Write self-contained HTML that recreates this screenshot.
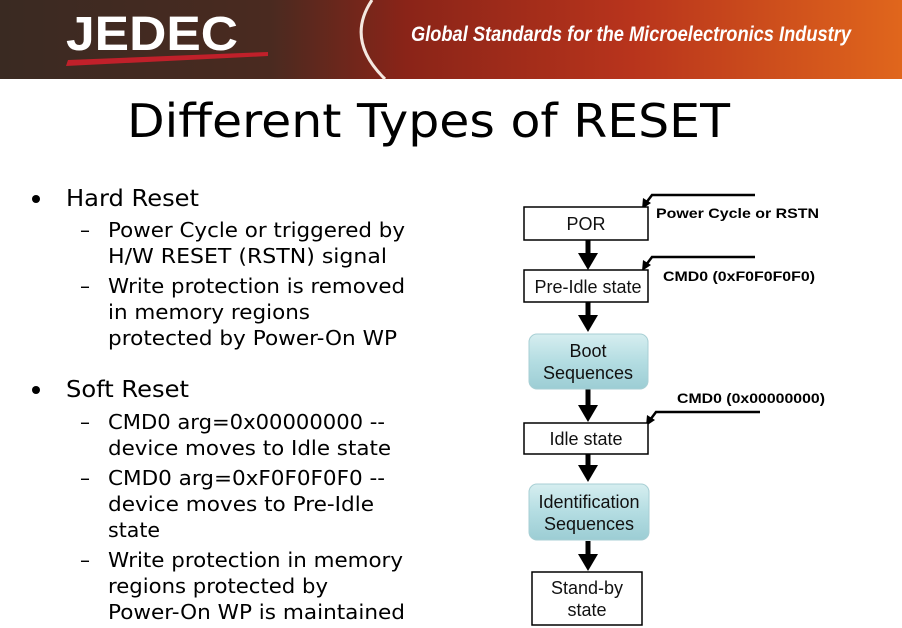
<!DOCTYPE html>
<html><head><meta charset="utf-8"><style>
html,body{margin:0;padding:0;background:#fff;width:902px;height:628px;overflow:hidden}
</style></head><body>
<svg width="902" height="628" viewBox="0 0 902 628" xmlns="http://www.w3.org/2000/svg">
<defs>
<linearGradient id="hdr" x1="0" y1="0" x2="1" y2="0">
<stop offset="0" stop-color="#3a2a22"/>
<stop offset="0.3" stop-color="#4a2a20"/>
<stop offset="0.45" stop-color="#8a2418"/>
<stop offset="0.7" stop-color="#b8341c"/>
<stop offset="1" stop-color="#e0661c"/>
</linearGradient>
<linearGradient id="box" x1="0" y1="0" x2="0" y2="1">
<stop offset="0" stop-color="#d6eef0"/>
<stop offset="0.5" stop-color="#b4dde2"/>
<stop offset="1" stop-color="#9ccdd4"/>
</linearGradient>
</defs>
<rect x="0" y="0" width="902" height="79" fill="url(#hdr)"/>
<path d="M372 0 Q345 40 385 79" stroke="#f4e8e0" stroke-width="3" fill="none"/>
<text x="66" y="50" font-family="Liberation Sans, sans-serif" font-weight="bold" font-size="48" fill="#fff" textLength="172" lengthAdjust="spacingAndGlyphs">JEDEC</text>
<polygon points="68,60 268,52 268,56 66,66" fill="#c0202a"/>
<text x="411" y="41" font-family="Liberation Sans, sans-serif" font-weight="bold" font-style="italic" font-size="21" fill="#fff" textLength="440" lengthAdjust="spacingAndGlyphs">Global Standards for the Microelectronics Industry</text>

<text x="127" y="137" font-family="DejaVu Sans, sans-serif" font-size="46" fill="#000" textLength="603" lengthAdjust="spacingAndGlyphs">Different Types of RESET</text>

<g font-family="DejaVu Sans, sans-serif" fill="#000">
<circle cx="36" cy="199" r="4"/>
<text x="66" y="206" font-size="23" textLength="133" lengthAdjust="spacingAndGlyphs">Hard Reset</text>
<circle cx="36" cy="390" r="4"/>
<text x="66" y="397" font-size="23" textLength="123" lengthAdjust="spacingAndGlyphs">Soft Reset</text>
<g font-size="20">
<text x="80" y="237">–</text><text x="108" y="237" textLength="297" lengthAdjust="spacingAndGlyphs">Power Cycle or triggered by</text>
<text x="108" y="263" textLength="279" lengthAdjust="spacingAndGlyphs">H/W RESET (RSTN) signal</text>
<text x="80" y="293">–</text><text x="108" y="293" textLength="297" lengthAdjust="spacingAndGlyphs">Write protection is removed</text>
<text x="108" y="319" textLength="202" lengthAdjust="spacingAndGlyphs">in memory regions</text>
<text x="108" y="345" textLength="289" lengthAdjust="spacingAndGlyphs">protected by Power-On WP</text>
<text x="80" y="429">–</text><text x="108" y="429" textLength="277" lengthAdjust="spacingAndGlyphs">CMD0 arg=0x00000000 --</text>
<text x="108" y="455" textLength="283" lengthAdjust="spacingAndGlyphs">device moves to Idle state</text>
<text x="80" y="485">–</text><text x="108" y="485" textLength="277" lengthAdjust="spacingAndGlyphs">CMD0 arg=0xF0F0F0F0 --</text>
<text x="108" y="511" textLength="266" lengthAdjust="spacingAndGlyphs">device moves to Pre-Idle</text>
<text x="108" y="537" textLength="52" lengthAdjust="spacingAndGlyphs">state</text>
<text x="80" y="567">–</text><text x="108" y="567" textLength="295" lengthAdjust="spacingAndGlyphs">Write protection in memory</text>
<text x="108" y="593" textLength="220" lengthAdjust="spacingAndGlyphs">regions protected by</text>
<text x="108" y="619" textLength="297" lengthAdjust="spacingAndGlyphs">Power-On WP is maintained</text>
</g>
</g>

<g stroke="#000" stroke-width="5" fill="none">
<line x1="588" y1="240" x2="588" y2="256"/>
<line x1="588" y1="302" x2="588" y2="318"/>
<line x1="588" y1="389" x2="588" y2="408"/>
<line x1="588" y1="454" x2="588" y2="468"/>
<line x1="588" y1="541" x2="588" y2="557"/>
</g>
<g fill="#000">
<polygon points="578,253 598,253 588,270"/>
<polygon points="578,315 598,315 588,332"/>
<polygon points="578,405 598,405 588,422"/>
<polygon points="578,465 598,465 588,482"/>
<polygon points="578,554 598,554 588,571"/>
</g>
<g stroke="#000" stroke-width="2.5" fill="none">
<polyline points="755,195 652,195 646,203"/>
<polyline points="755,257 652,257 646,265"/>
<polyline points="760,412 656,412 650,420"/>
</g>
<g fill="#000">
<polygon points="642,209 643,198 651,203"/>
<polygon points="642,271 643,260 651,265"/>
<polygon points="646,426 647,415 655,420"/>
</g>

<g font-family="Liberation Sans, sans-serif" font-size="18" fill="#111" text-anchor="middle">
<rect x="524" y="207" width="124" height="33" fill="#fff" stroke="#000" stroke-width="1.5"/>
<text x="586" y="230">POR</text>
<rect x="524" y="270" width="124" height="32" fill="#fff" stroke="#000" stroke-width="1.5"/>
<text x="588" y="293">Pre-Idle state</text>
<rect x="529" y="334" width="119" height="55" rx="8" fill="url(#box)" stroke="#a8cfd4" stroke-width="1"/>
<text x="588" y="357">Boot</text>
<text x="588" y="379">Sequences</text>
<rect x="524" y="423" width="124" height="31" fill="#fff" stroke="#000" stroke-width="1.5"/>
<text x="586" y="445">Idle state</text>
<rect x="529" y="484" width="120" height="56" rx="8" fill="url(#box)" stroke="#a8cfd4" stroke-width="1"/>
<text x="589" y="508">Identification</text>
<text x="589" y="530">Sequences</text>
<rect x="532" y="572" width="110" height="53" fill="#fff" stroke="#000" stroke-width="1.5"/>
<text x="587" y="594">Stand-by</text>
<text x="587" y="616">state</text>
</g>
<g font-family="Liberation Sans, sans-serif" font-size="14" font-weight="bold" fill="#000">
<text x="656" y="218" textLength="163" lengthAdjust="spacingAndGlyphs">Power Cycle or RSTN</text>
<text x="663" y="281" textLength="152" lengthAdjust="spacingAndGlyphs">CMD0 (0xF0F0F0F0)</text>
<text x="677" y="403" textLength="148" lengthAdjust="spacingAndGlyphs">CMD0 (0x00000000)</text>
</g>
</svg>
</body></html>
